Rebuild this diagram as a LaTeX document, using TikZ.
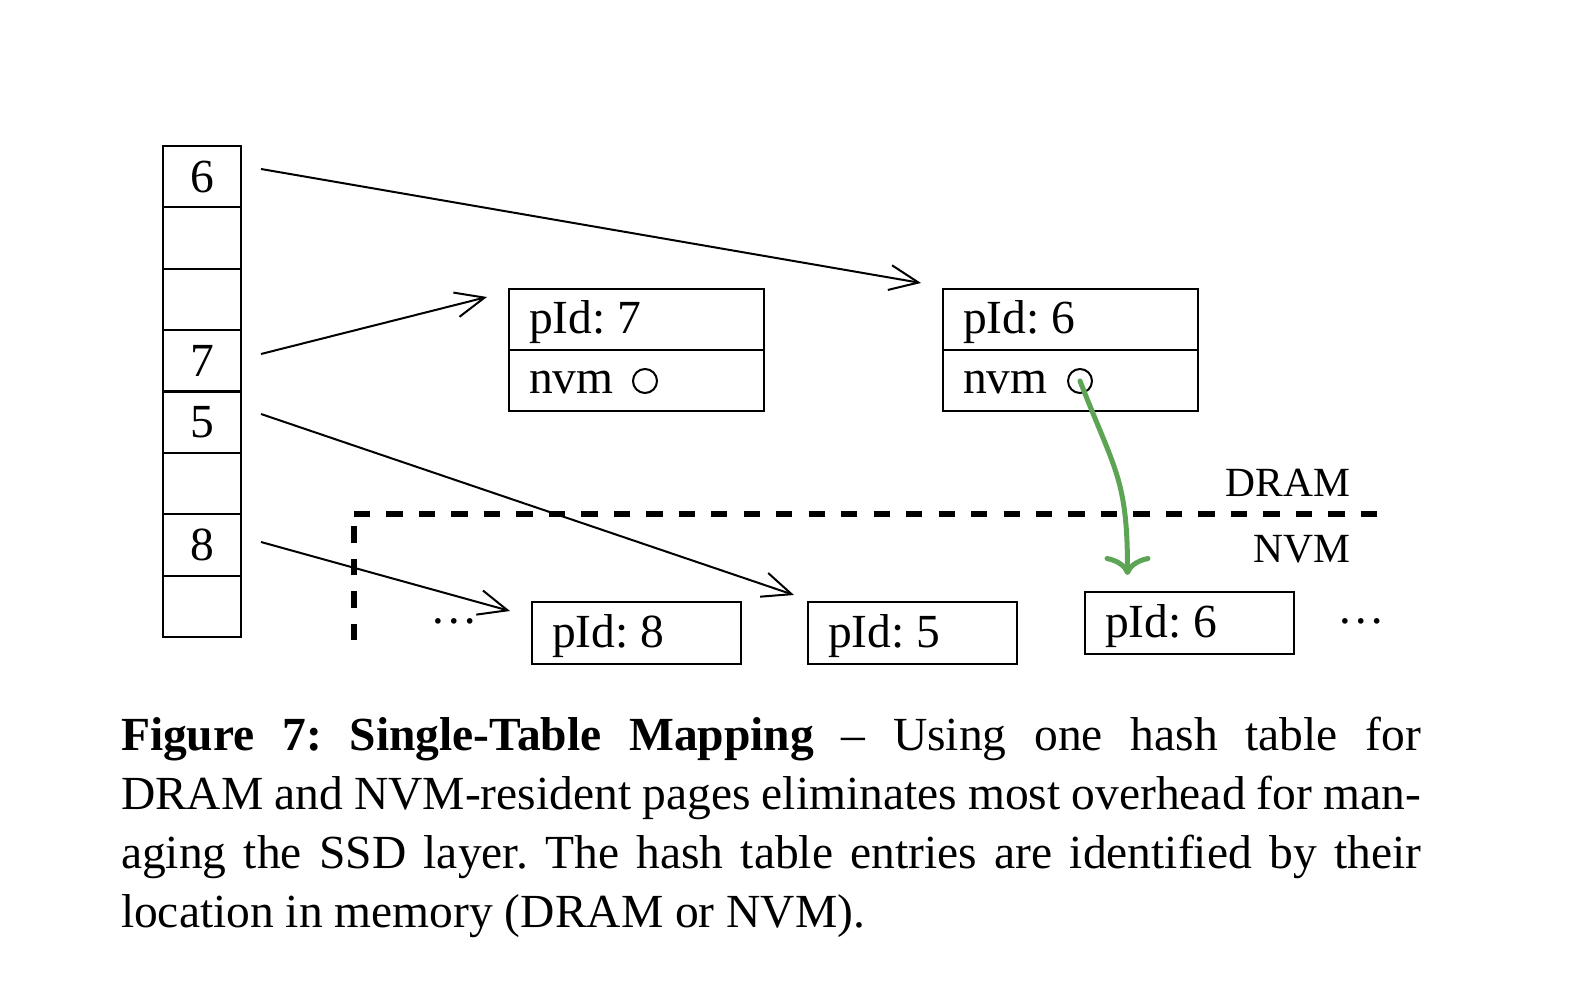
\documentclass[tikz,border=0pt]{standalone}
\usepackage{fontspec}
\setmainfont{Liberation Serif}
\usetikzlibrary{arrows.meta,calc}
\definecolor{grn}{RGB}{93,164,84}
\frenchspacing
\begin{document}
\begin{tikzpicture}[x=0.2pt,y=-0.2pt,
  cell/.style={draw, line width=0.4pt, minimum width=15.6pt, minimum height=12.275pt, inner sep=0pt, font=\fontsize{9.5}{11}\selectfont},
  entry/.style={draw, line width=0.4pt, minimum width=51pt, minimum height=12.2pt, inner sep=0pt},
  sentry/.style={draw, line width=0.4pt, minimum width=41.8pt, minimum height=12.4pt, inner sep=0pt},
  lbl/.style={anchor=base west, inner sep=0pt, font=\fontsize{9.5}{11}\selectfont},
  memlbl/.style={anchor=base east, inner sep=0pt, font=\fontsize{8.3}{10}\selectfont},
  circ/.style={circle, draw, line width=0.4pt, minimum size=4.8pt, inner sep=0pt},
  ptr/.style={-{Straight Barb[length=5.8pt,width=5pt]}, line width=0.4pt},
  grnarrow/.style={-{Computer Modern Rightarrow[length=3.8pt,width=9.2pt,line cap=round]}, line width=1pt, draw=grn, line cap=round},
  sep/.style={line width=1.2pt, dash pattern=on 3.25pt off 3.245pt}
]
\useasboundingbox (0,0) rectangle (1570,984);

% hash table
\node[cell] (c0) at (202,176.7) {6};
\node[cell] (c1) at (202,238.1) {};
\node[cell] (c2) at (202,299.4) {};
\node[cell] (c3) at (202,360.8) {7};
\node[cell] (c4) at (202,422.2) {5};
\node[cell] (c5) at (202,483.6) {};
\node[cell] (c6) at (202,545.0) {8};
\node[cell] (c7) at (202,606.3) {};

% DRAM entries
\node[entry] (e7a) at (636.5,319.5) {};
\node[entry] (e7b) at (636.5,380.5) {};
\node[lbl] (t7a) at (528,334) {pId: 7};
\node[lbl] (t7b) at (528,394) {nvm};
\node[circ] (o7) at (645,381) {};

\node[entry] (e6a) at (1070.5,319.5) {};
\node[entry] (e6b) at (1070.5,380.5) {};
\node[lbl] (t6a) at (962,334) {pId: 6};
\node[lbl] (t6b) at (962,394) {nvm};
\node[circ] (o6) at (1080,381) {};

% NVM entries
\node[sentry] (s8) at (636.5,633) {};
\node[lbl] (u8) at (551,647) {pId: 8};
\node[sentry] (s5) at (912.5,633) {};
\node[lbl] (u5) at (827,647) {pId: 5};
\node[sentry] (s6) at (1189,623) {};
\node[lbl] (u6) at (1104,637) {pId: 6};

\node[anchor=base, inner sep=0pt, font=\fontsize{9.5}{11}\selectfont] (d1) at (454,623) {\dots};
\node[anchor=base, inner sep=0pt, font=\fontsize{9.5}{11}\selectfont] (d2) at (1361,623) {\dots};

% separator
\coordinate (sa) at (354,640);
\coordinate (sb) at (354,514);
\coordinate (sc) at (1377,514);
\draw[sep] (sb) -- (sc);
\draw[sep] (sa) -- (sb);
\node[memlbl] (dram) at (1351,497) {DRAM};
\node[memlbl] (nvm) at (1351,562) {NVM};

% pointers
\draw[ptr] ($(c0.east)+(19,-7.7)$) -- ($(e6a.north west)+(-21,-5)$);
\draw[ptr] ($(c3.east)+(19,-6.8)$) -- ($(e7a.north west)+(-21,9)$);
\draw[ptr] ($(c4.east)+(19,-8.2)$) -- ($(s5.north west)+(-13,-6)$);
\draw[ptr] ($(c6.east)+(19,-3)$) -- ($(s8.west)+(-21,-22)$);

\draw[grnarrow] (o6.center) .. controls ($(o6.center)+(35,90)$) and ($(s6.north west)+(44,-112)$) .. ($(s6.north west)+(44,-16)$);

% caption
\node[anchor=base west, text width=260pt, inner sep=0pt, align=justify,
  font=\fontsize{9.5}{11.8}\selectfont] (cap) at (120,750)
{{\bfseries Figure 7: Single-Table Mapping} – Using one hash table for\linebreak
DRAM and NVM-resident pages eliminates most overhead for man-\linebreak
aging the SSD layer. The hash table entries are identified by their\linebreak
location in memory (DRAM or NVM).};
\end{tikzpicture}
\end{document}
